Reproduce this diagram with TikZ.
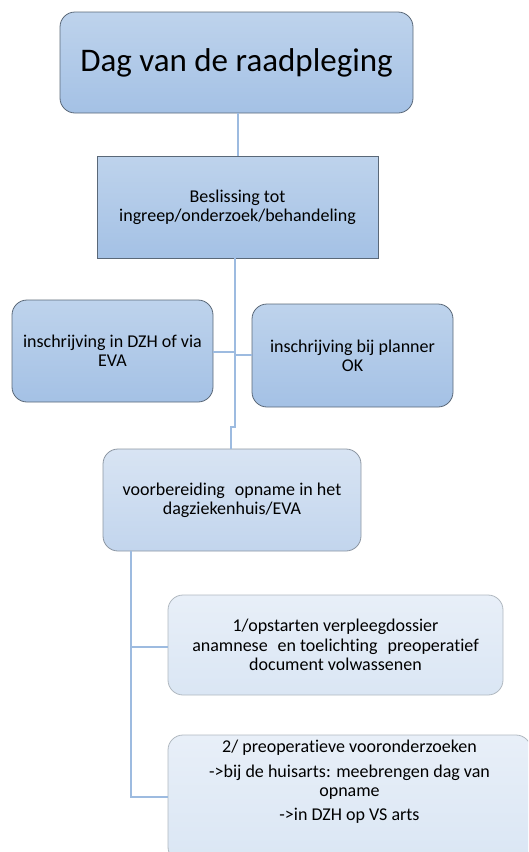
\documentclass[tikz,border=0pt]{standalone}
\usepackage{fontspec}
\setmainfont{Carlito}[Ligatures=NoCommon]
\usetikzlibrary{calc}
\definecolor{lineblue}{HTML}{9DBBE0}
\definecolor{darkedge}{HTML}{5A6878}
\definecolor{midedge}{HTML}{8C96A2}
\definecolor{lightedge}{HTML}{B0B8C0}
\definecolor{aTop}{HTML}{BED3EC}
\definecolor{aBot}{HTML}{A4C1E5}
\definecolor{bTop}{HTML}{D8E4F3}
\definecolor{bBot}{HTML}{C2D5ED}
\definecolor{cTop}{HTML}{E8EFF8}
\definecolor{cBot}{HTML}{DAE6F4}
\newcommand{\boxfont}{\fontsize{18pt}{19.3pt}\selectfont}
\newcommand{\dsp}{\hspace{0.55em}}
\tikzset{
  boxA/.style={draw=darkedge, line width=0.8pt, top color=aTop, bottom color=aBot, align=center, inner sep=2pt, font=\boxfont},
  boxB/.style={draw=midedge, line width=0.8pt, top color=bTop, bottom color=bBot, align=center, inner sep=2pt, rounded corners=15pt, font=\boxfont},
  boxC/.style={draw=lightedge, line width=0.8pt, top color=cTop, bottom color=cBot, align=center, inner sep=2pt, rounded corners=15pt, font=\boxfont},
  conn/.style={draw=lineblue, line width=2pt},
}
\begin{document}
\begin{tikzpicture}[x=1pt,y=-1pt]
\useasboundingbox (0,0) rectangle (528,852);
\clip (0,0) rectangle (528,852);
% boxes
\node[boxA, rounded corners=15pt, minimum width=353pt, minimum height=101pt, font=\fontsize{33pt}{40pt}\selectfont] (b1) at (236.5,62.5) {Dag van de raadpleging};
\node[boxA, minimum width=281pt, minimum height=102pt] (b2) at (237.5,207) {Beslissing tot\\ingreep/onderzoek/behandeling};
\node[boxA, rounded corners=15pt, minimum width=201pt, minimum height=102pt] (b3) at (112.5,351) {inschrijving in DZH of via\\EVA};
\node[boxA, rounded corners=15pt, minimum width=201pt, minimum height=103pt] (b4) at (352.5,355.5) {inschrijving bij planner\\OK};
\node[boxB, minimum width=258pt, minimum height=102pt] (b5) at (232,500) {voorbereiding\dsp opname in het\\dagziekenhuis/EVA};
\node[boxC, minimum width=335pt, minimum height=100pt] (b6) at (335.5,645) {1/opstarten verpleegdossier\\anamnese\dsp en toelichting\dsp preoperatief\\document volwassenen};
\node[boxC, minimum width=363pt, minimum height=127pt] (b7) at (349.5,798.5) {};
\node[align=center, inner sep=0pt, font=\boxfont, anchor=north] (t7) at (349.5,740) {2/ preoperatieve vooronderzoeken\\[5pt]->bij de huisarts: meebrengen dag van\\opname\\[5pt]->in DZH op VS arts};
% connector helper coordinates
\coordinate (x238) at (238,0);
\coordinate (j1) at (235,427);
\coordinate (j2) at (231,427);
\coordinate (h3) at (235,352);
\coordinate (h4) at (235,355);
\coordinate (c5) at (131,551);
\coordinate (c6) at (131,647);
\coordinate (c7) at (131,797);
% connectors
\draw[conn] (b1.south -| x238) -- (b2.north -| x238);
\draw[conn] (b2.south -| j1) -- (j1) -- (j2) -- (b5.north -| j2);
\draw[conn] (b3.east |- h3) -- (h3);
\draw[conn] (h4) -- (b4.west |- h4);
\draw[conn] (c5) -- (c7) -- (b7.west |- c7);
\draw[conn] (c6) -- (b6.west |- c6);
\end{tikzpicture}
\end{document}
